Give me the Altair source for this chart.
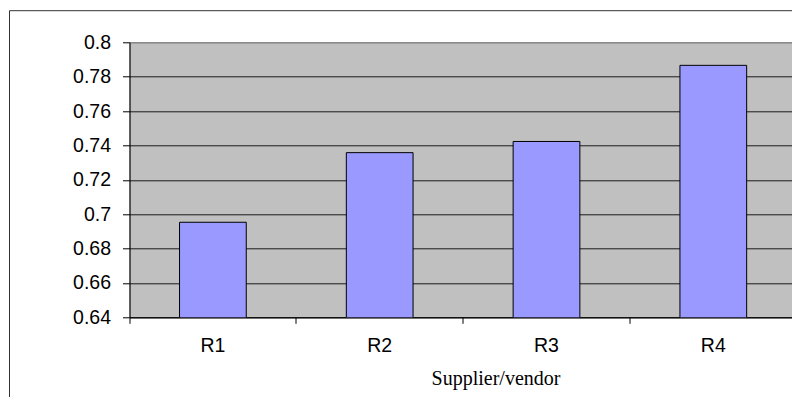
import altair as alt
import pandas as pd

categories = ["R1", "R2", "R3", "R4"]
values = [0.6953, 0.7358, 0.7423, 0.7866]
y_ticks = [0.64, 0.66, 0.68, 0.70, 0.72, 0.74, 0.76, 0.78, 0.80]
x_title = "Supplier/vendor"

df = pd.DataFrame({"supplier": categories, "value": values})
frame_df = pd.DataFrame({"k": [0]})

frame = alt.Chart(frame_df).mark_rect(
    fillOpacity=0, stroke="#333333", strokeWidth=1
).encode(
    x=alt.value(-120), x2=alt.value(3000),
    y=alt.value(-31.6), y2=alt.value(3000),
)

bars = alt.Chart(df).mark_bar(
    width=alt.RelativeBandSize(0.4),
    fill="#9999FF", stroke="#000000", strokeWidth=1, clip=True,
).encode(
    x=alt.X(
        "supplier:N", sort=categories,
        scale=alt.Scale(paddingInner=0, paddingOuter=0),
        axis=alt.Axis(
            title=x_title, labelAngle=0, bandPosition=1, tickExtra=True,
            tickSize=6, tickColor="#000000", domainColor="#000000",
            labelFont="Liberation Sans", labelFontSize=19.5, labelColor="#000000",
            labelPadding=13.5, grid=False,
            titleFont="Liberation Serif", titleFontSize=20, titleFontWeight="normal",
            titleColor="#000000", titleX=366, titleY=66.7,
            titleAlign="center", titleBaseline="alphabetic",
        ),
    ),
    y=alt.Y(
        "value:Q",
        scale=alt.Scale(domain=[0.64, 0.8], zero=False, nice=False),
        axis=alt.Axis(
            title=None, values=y_ticks, format="~g",
            grid=True, gridWidth=1,
            gridColor={"condition": {"test": "datum.value > 0.79", "value": "#808080"}, "value": "#1a1a1a"},
            tickSize=7, tickColor="#000000", domainColor="#000000",
            labelFont="Liberation Sans", labelFontSize=19.5, labelColor="#000000",
            labelPadding=12, labelOverlap=False,
        ),
    ),
)

chart = alt.layer(frame, bars).properties(
    width=667.2, height=275,
    autosize=alt.AutoSizeParams(type="none"),
    padding={"left": 121.5, "top": 34.3, "right": -4.7, "bottom": 79.7},
    background="#FFFFFF",
).configure_view(fill="#C0C0C0", stroke="#808080", strokeWidth=1)

chart.save("out.html", embed_options={"renderer": "svg", "actions": False})
